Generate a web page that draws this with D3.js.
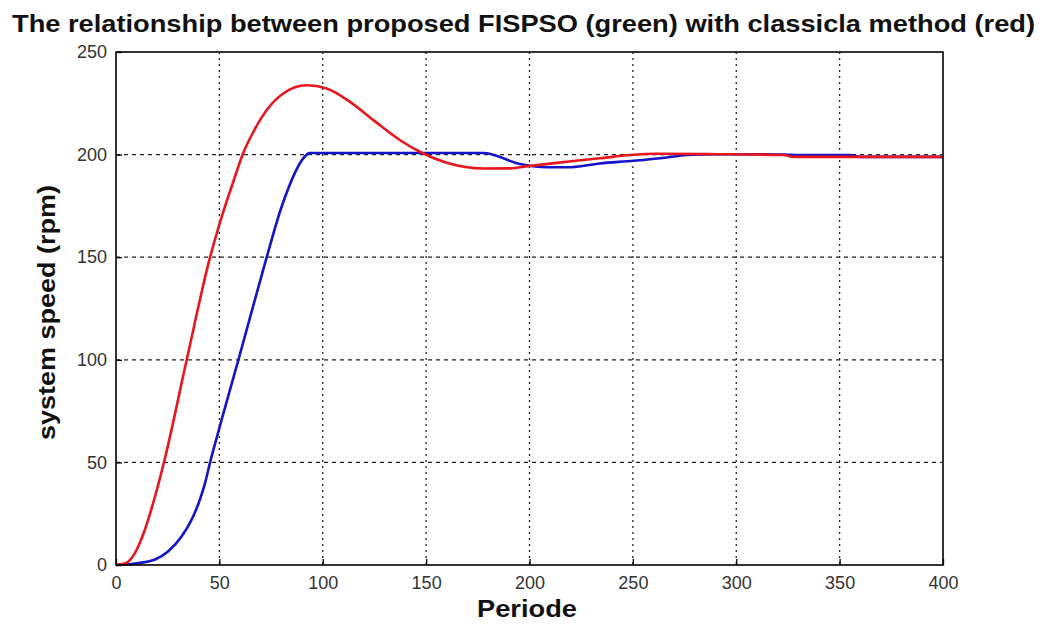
<!DOCTYPE html>
<html>
<head>
<meta charset="utf-8">
<script src="https://cdn.jsdelivr.net/npm/d3@7"></script>
<style>
  body { margin: 0; background: #fff; }
  text { font-family: "Liberation Sans", Arial, sans-serif; }
</style>
</head>
<body>
<div id="main"></div>
<script>
// **** Data ****
var xTicks = [0, 50, 100, 150, 200, 250, 300, 350, 400];
var yTicks = [0, 50, 100, 150, 200, 250];

// classical method (red)
var redPeriode = [0, 4.4, 9.2, 14, 18.9, 23.2, 34.2, 45.5, 50.3, 56.8, 61.6, 66.4, 72.9, 80.9, 92.2,
  101.9, 113.2, 124.5, 137.4, 147.9, 160, 177.7, 190.6, 199.4, 218, 234, 248.7, 261.6, 290.6, 322.8, 327.7, 400];
var redSpeed = [0, 0.7, 5.9, 17.3, 33.5, 50, 100, 150, 167, 187, 200.9, 211, 221.7, 229.8, 233.8,
  232.2, 225.7, 216.8, 207, 200.9, 196, 193.2, 193.3, 194.4, 196.5, 198.2, 199.8, 200.4, 200.2, 199.8, 198.9, 198.9];

// FISPSO (blue)
var bluePeriode = [0, 9.2, 18.9, 25.3, 31.8, 36.6, 40.6, 43.1, 45.5, 48.9, 51.1, 59.2, 66.3, 72.9, 80.1, 92.3, 93.6,
  177.7, 195.4, 208.3, 218, 234, 250.3, 266.4, 276, 290.6, 314.8, 330.9, 355, 360, 400];
var blueSpeed = [0, 0.7, 2.7, 6.7, 14, 22.1, 31.9, 40, 50, 62.7, 70.8, 100, 126, 150, 174.6, 200, 200.8,
  200.8, 195.4, 193.8, 193.8, 195.7, 197, 198.6, 199.8, 200.2, 200.2, 199.8, 199.8, 198.9, 198.9];

// **** Dimensions ****
var W = 1047, H = 627;
var margin = {top: 52, right: 104, bottom: 62, left: 116},
    width = W - margin.left - margin.right,
    height = H - margin.top - margin.bottom;

var svg = d3.select("#main")
  .append("svg")
    .attr("width", W)
    .attr("height", H);

var g = svg.append("g")
    .attr("transform", "translate(" + margin.left + "," + margin.top + ")");

var x = d3.scaleLinear().domain([0, 400]).range([0, width]);
var y = d3.scaleLinear().domain([0, 250]).range([height, 0]);

// **** Grid ****
g.append("g").selectAll("line")
  .data(xTicks.slice(1, -1))
  .enter().append("line")
    .attr("x1", function(d){ return x(d); })
    .attr("x2", function(d){ return x(d); })
    .attr("y1", 0).attr("y2", height)
    .style("stroke", "#222")
    .style("stroke-width", 1.3)
    .style("stroke-dasharray", "2,4");

g.append("g").selectAll("line")
  .data(yTicks.slice(1, -1))
  .enter().append("line")
    .attr("y1", function(d){ return y(d); })
    .attr("y2", function(d){ return y(d); })
    .attr("x1", 0).attr("x2", width)
    .style("stroke", "#222")
    .style("stroke-width", 1.3)
    .style("stroke-dasharray", "4,4");

// **** Lines ****
var blueData = bluePeriode.map(function(d, i){ return [d, blueSpeed[i]]; });
var redData = redPeriode.map(function(d, i){ return [d, redSpeed[i]]; });

var line = d3.line()
  .x(function(d){ return x(d[0]); })
  .y(function(d){ return y(d[1]); })
  .curve(d3.curveMonotoneX);

g.append("path")
  .datum(blueData)
  .attr("d", line)
  .style("fill", "none")
  .style("stroke", "#1414c8")
  .style("stroke-width", 2.6);

g.append("path")
  .datum(redData)
  .attr("d", line)
  .style("fill", "none")
  .style("stroke", "#e8161e")
  .style("stroke-width", 2.6);

// **** Axes (box with inward ticks) ****
var xAxis = g.append("g")
  .attr("transform", "translate(0," + height + ")")
  .call(d3.axisBottom(x).tickValues(xTicks).tickSizeInner(-6).tickSizeOuter(0).tickPadding(11));

var yAxis = g.append("g")
  .call(d3.axisLeft(y).tickValues(yTicks).tickSizeInner(-6).tickSizeOuter(0).tickPadding(9));

[xAxis, yAxis].forEach(function(a){
  a.select(".domain").remove();
  a.selectAll("line").style("stroke", "#000").style("stroke-width", 1.3);
  a.selectAll("text")
    .style("font-size", "18px")
    .style("font-family", "'Liberation Sans', Arial, sans-serif")
    .style("fill", "#333");
});

g.append("rect")
  .attr("width", width)
  .attr("height", height)
  .style("fill", "none")
  .style("stroke", "#000")
  .style("stroke-width", 1.6);

// **** Labels ****
svg.append("text")
  .attr("x", 12)
  .attr("y", 32)
  .attr("textLength", 1023)
  .attr("lengthAdjust", "spacingAndGlyphs")
  .text("The relationship between proposed FISPSO (green) with classicla method (red)")
  .style("font-size", "23px")
  .style("font-weight", "bold")
  .style("fill", "#111");

svg.append("text")
  .attr("x", 477)
  .attr("y", 617)
  .attr("textLength", 100)
  .attr("lengthAdjust", "spacingAndGlyphs")
  .text("Periode")
  .style("font-size", "24px")
  .style("font-weight", "bold")
  .style("fill", "#111");

svg.append("text")
  .attr("transform", "translate(55,440) rotate(-90)")
  .attr("textLength", 255)
  .attr("lengthAdjust", "spacingAndGlyphs")
  .text("system speed (rpm)")
  .style("font-size", "24px")
  .style("font-weight", "bold")
  .style("fill", "#111");
</script>
</body>
</html>
